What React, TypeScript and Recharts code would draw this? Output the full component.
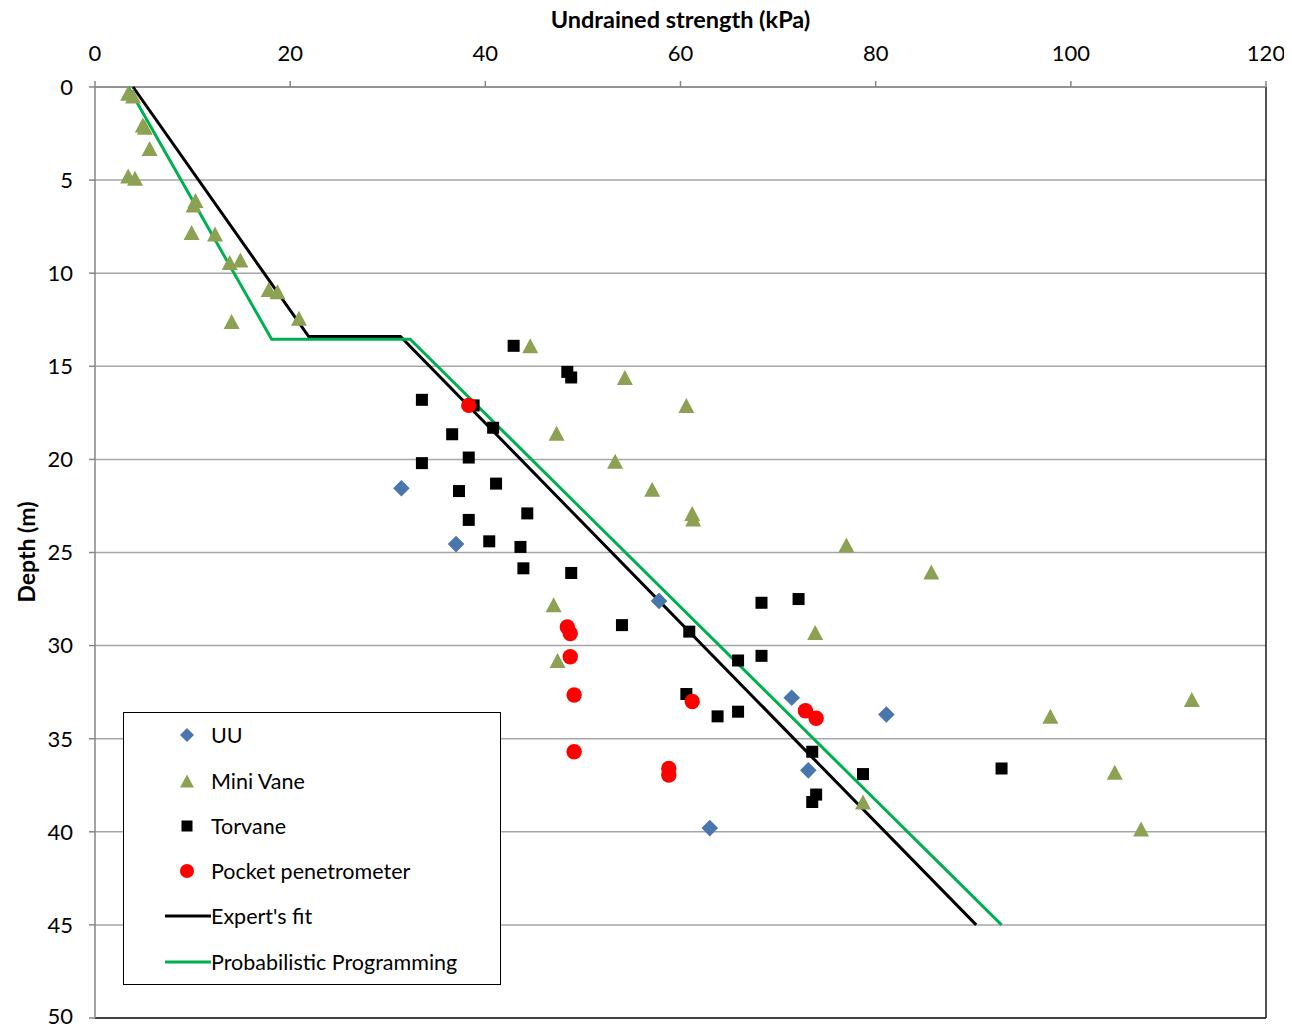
import React from 'react';
import { ScatterChart, Scatter, XAxis, YAxis, CartesianGrid, ReferenceLine } from 'recharts';

// tick values
const X_TICKS = [0, 20, 40, 60, 80, 100, 120];
const Y_TICKS = [0, 5, 10, 15, 20, 25, 30, 35, 40, 45, 50];

// UU
const uuStrength = [31.4, 37.0, 57.8, 71.4, 81.1, 73.1, 63.0];
const uuDepth = [21.55, 24.55, 27.6, 32.8, 33.7, 36.7, 39.8];

// Mini Vane
const miniVaneStrength = [
  3.4, 3.9, 4.9, 5.1, 5.6, 3.4, 4.1, 10.1, 10.3, 9.9, 12.3, 13.8, 14.9, 17.8, 18.7, 20.9, 14.0,
  44.6, 54.3, 60.6, 47.3, 53.3, 57.1, 61.2, 61.3, 77.0, 85.7, 47.0, 73.8, 47.4, 112.4, 97.9, 104.5, 78.7, 107.2,
];
const miniVaneDepth = [
  0.34, 0.48, 2.04, 2.16, 3.3, 4.78, 4.9, 6.34, 6.1, 7.82, 7.9, 9.43, 9.29, 10.87, 10.99, 12.42, 12.6,
  13.9, 15.6, 17.1, 18.6, 20.1, 21.6, 22.9, 23.2, 24.6, 26.05, 27.8, 29.3, 30.8, 32.9, 33.8, 36.8, 38.4, 39.85,
];

// Torvane
const torvaneStrength = [
  42.9, 48.4, 48.8, 33.5, 38.8, 40.8, 36.6, 38.3, 33.5, 41.1, 37.3, 44.3, 38.3, 40.4, 43.6, 43.9, 48.8,
  54.0, 60.9, 68.3, 72.1, 65.9, 68.3, 60.6, 63.8, 65.9, 73.5, 78.7, 73.9, 73.5, 92.9,
];
const torvaneDepth = [
  13.9, 15.3, 15.6, 16.8, 17.1, 18.3, 18.65, 19.9, 20.2, 21.3, 21.7, 22.9, 23.25, 24.4, 24.7, 25.85, 26.1,
  28.9, 29.25, 27.7, 27.5, 30.8, 30.55, 32.6, 33.8, 33.55, 35.7, 36.9, 38.0, 38.4, 36.6,
];

// Pocket penetrometer
const pocketStrength = [38.3, 48.4, 48.7, 48.7, 49.1, 49.1, 58.8, 58.8, 61.2, 72.8, 73.9];
const pocketDepth = [17.1, 29.0, 29.35, 30.6, 32.65, 35.7, 36.6, 36.95, 33.0, 33.5, 33.9];

// fitted profiles
const expertStrength = [3.9, 21.9, 31.3, 90.3];
const expertDepth = [0, 13.4, 13.4, 45];
const probStrength = [3.4, 18.1, 32.3, 92.9];
const probDepth = [0, 13.55, 13.55, 45];

const toPoints = (xs: number[], ys: number[]) => xs.map((x, i) => ({ x, y: ys[i] }));

const BLUE = '#4A76AE';
const OLIVE = '#8CA252';
const RED = '#FF0000';
const GREEN = '#00B050';
const FONT = 'Lato, "Open Sans", sans-serif';

const Diamond = ({ cx, cy, r = 8.3, fill = BLUE }: any) => (
  <polygon points={`${cx},${cy - r} ${cx + r},${cy} ${cx},${cy + r} ${cx - r},${cy}`} fill={fill} />
);
const Triangle = ({ cx, cy, w = 16, h = 15, fill = OLIVE }: any) => (
  <polygon points={`${cx},${cy - h / 2} ${cx + w / 2},${cy + h / 2} ${cx - w / 2},${cy + h / 2}`} fill={fill} />
);
const Square = ({ cx, cy, s = 12, fill = '#000' }: any) => (
  <rect x={cx - s / 2} y={cy - s / 2} width={s} height={s} fill={fill} />
);
const Dot = ({ cx, cy, r = 7.7, fill = RED }: any) => <circle cx={cx} cy={cy} r={r} fill={fill} />;
const NoShape = () => <g />;

const LEGEND_ITEMS = [
  { name: 'UU', kind: 'diamond' },
  { name: 'Mini Vane', kind: 'triangle' },
  { name: 'Torvane', kind: 'square' },
  { name: 'Pocket penetrometer', kind: 'dot' },
  { name: "Expert's fit", kind: 'line', color: '#000' },
  { name: 'Probabilistic Programming', kind: 'line', color: GREEN },
];
const LEGEND_ROWS = [23.7, 69.7, 114.7, 159.7, 204.7, 250.3];

const LegendIcon = ({ kind, color }: any) => {
  if (kind === 'line') {
    return (
      <svg width={46} height={10} style={{ position: 'absolute', left: 41, top: -5 }}>
        <line x1={0} y1={5} x2={46} y2={5} stroke={color} strokeWidth={3} />
      </svg>
    );
  }
  return (
    <svg width={20} height={20} style={{ position: 'absolute', left: 53, top: -10 }}>
      {kind === 'diamond' && <Diamond cx={10} cy={10} r={7} />}
      {kind === 'triangle' && <Triangle cx={10} cy={10} w={14} h={13} />}
      {kind === 'square' && <Square cx={10} cy={10} s={11} />}
      {kind === 'dot' && <Dot cx={10} cy={10} r={7} />}
    </svg>
  );
};

const ChartLegend = () => (
  <div
    style={{
      position: 'absolute',
      left: 115,
      top: 704,
      width: 378,
      height: 273,
      border: '1.5px solid #000',
      boxSizing: 'border-box',
      background: '#fff',
    }}
  >
    {LEGEND_ITEMS.map((item, i) => (
      <div key={item.name} style={{ position: 'absolute', left: 0, top: LEGEND_ROWS[i] - 1.5, width: '100%' }}>
        <LegendIcon kind={item.kind} color={item.color} />
        <span
          style={{
            position: 'absolute',
            left: 87,
            top: -14,
            fontSize: 21.5,
            lineHeight: '28px',
            whiteSpace: 'nowrap',
            color: '#000',
          }}
        >
          {item.name}
        </span>
      </div>
    ))}
  </div>
);

const DepthLabel = () => (
  <text
    x={18}
    y={544}
    transform="rotate(-90 18 544)"
    textAnchor="middle"
    dominantBaseline="central"
    fontSize={23}
    fontWeight="bold"
    fill="#000"
  >
    Depth (m)
  </text>
);

export default function App() {
  return (
    <div style={{ position: 'relative', width: 1284, height: 1021, fontFamily: FONT }}>
      <ScatterChart width={1284} height={1021} margin={{ top: 0, right: 26, bottom: 11, left: 0 }}>
        <CartesianGrid horizontal vertical={false} stroke="#A6A6A6" strokeWidth={1.5} />
        <XAxis
          type="number"
          dataKey="x"
          orientation="top"
          domain={[0, 120]}
          ticks={X_TICKS}
          height={79}
          tickSize={6}
          tickMargin={20}
          stroke="#868686"
          strokeWidth={1.5}
          tick={{ fill: '#000', fontSize: 22 }}
          label={{ value: 'Undrained strength (kPa)', position: 'insideTop', offset: 3, fontSize: 23.5, fontWeight: 'bold', fill: '#000' }}
        />
        <YAxis
          type="number"
          dataKey="y"
          reversed
          domain={[0, 50]}
          ticks={Y_TICKS}
          width={87}
          tickSize={6}
          tickMargin={16}
          stroke="#868686"
          strokeWidth={1.5}
          tick={{ fill: '#000', fontSize: 22 }}
          label={{ content: DepthLabel }}
        />
        <ReferenceLine x={120} stroke="#1A1A1A" strokeWidth={1.5} />
        <ReferenceLine y={50} stroke="#1A1A1A" strokeWidth={1.5} />
        <Scatter
          name="Expert's fit"
          data={toPoints(expertStrength, expertDepth)}
          line={{ stroke: '#000', strokeWidth: 3 }}
          shape={NoShape}
          isAnimationActive={false}
        />
        <Scatter
          name="Probabilistic Programming"
          data={toPoints(probStrength, probDepth)}
          line={{ stroke: GREEN, strokeWidth: 3 }}
          shape={NoShape}
          isAnimationActive={false}
        />
        <Scatter name="UU" data={toPoints(uuStrength, uuDepth)} shape={Diamond} isAnimationActive={false} />
        <Scatter name="Torvane" data={toPoints(torvaneStrength, torvaneDepth)} shape={Square} isAnimationActive={false} />
        <Scatter name="Mini Vane" data={toPoints(miniVaneStrength, miniVaneDepth)} shape={Triangle} isAnimationActive={false} />
        <Scatter
          name="Pocket penetrometer"
          data={toPoints(pocketStrength, pocketDepth)}
          shape={Dot}
          isAnimationActive={false}
        />
      </ScatterChart>
      <ChartLegend />
    </div>
  );
}
